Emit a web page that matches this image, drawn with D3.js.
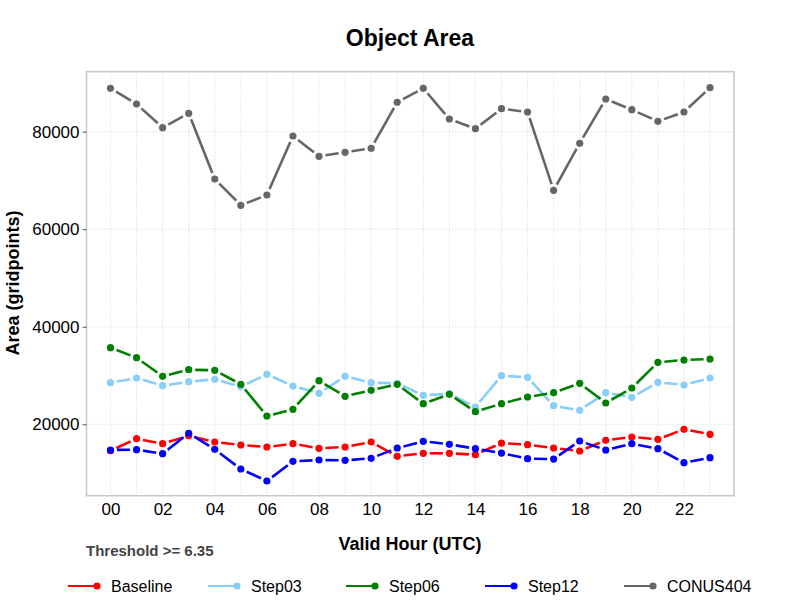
<!DOCTYPE html>
<html>
<head>
<meta charset="utf-8">
<script src="https://cdn.jsdelivr.net/npm/d3@7"></script>
<style>
  body { margin: 0; background: #fff; }
  svg { font-family: "Liberation Sans", Arial, sans-serif; }
</style>
</head>
<body>
<div id="chart"></div>
<script>
// chart data
const hours = [0, 1, 2, 3, 4, 5, 6, 7, 8, 9, 10, 11, 12, 13, 14, 15, 16, 17, 18, 19, 20, 21, 22, 23];
const xTickHours = [0, 2, 4, 6, 8, 10, 12, 14, 16, 18, 20, 22];
const yTicks = [20000, 40000, 60000, 80000];

const baseline = [14590, 17050, 16020, 17660, 16370, 15760, 15350, 16020, 15080, 15350, 16370, 13440,
                  14050, 14050, 13770, 16160, 15820, 15140, 14530, 16720, 17400, 16920, 18970, 17950];
const step03 = [28530, 29490, 27920, 28740, 29230, 27710, 30250, 27850, 26360, 29840, 28530, 28410,
                25950, 26270, 23550, 29970, 29640, 23810, 22870, 26480, 25540, 28610, 28060, 29490];
const step06 = [35710, 33660, 29840, 31200, 31070, 28200, 21700, 23080, 28940, 25740, 26970, 28200,
                24220, 26150, 22580, 24220, 25600, 26480, 28410, 24370, 27440, 32710, 33190, 33390];
const step12 = [14730, 14800, 13970, 18150, 14870, 10830, 8370, 12410, 12680, 12610, 13030, 15140,
                16510, 15900, 15000, 14110, 12950, 12880, 16580, 14730, 16020, 15000, 12130, 13150];
const conus404 = [88900, 85680, 80820, 83770, 70300, 64910, 67020, 79120, 74950, 75770, 76600, 86030,
                  88900, 82600, 80610, 84710, 84040, 67980, 77620, 86700, 84510, 82130, 84040, 89020];

const seriesNames = ["Baseline", "Step03", "Step06", "Step12", "CONUS404"];
const seriesColors = ["#ff0000", "#87cefa", "#008000", "#0000ff", "#666666"];
const seriesValues = [baseline, step03, step06, step12, conus404];

// size and plot box
const width = 792;
const height = 612;
const plot = {left: 86.5, right: 734, top: 71.7, bottom: 495.7};

const svg = d3.select("#chart")
  .append("svg")
  .attr("width", width)
  .attr("height", height)
  .attr("viewBox", [0, 0, width, height]);

const xScale = d3.scaleLinear()
  .domain([-0.92, 23.92])
  .range([plot.left, plot.right]);

const yScale = d3.scaleLinear()
  .domain([5360, 92300])
  .range([plot.bottom, plot.top]);

// dotted grid
svg.append("g")
  .selectAll("line")
  .data(hours)
  .join("line")
    .attr("x1", d => xScale(d)).attr("x2", d => xScale(d))
    .attr("y1", plot.top).attr("y2", plot.bottom)
    .attr("stroke", "#d4d4d4")
    .attr("stroke-dasharray", "1,2");

svg.append("g")
  .selectAll("line")
  .data(yTicks)
  .join("line")
    .attr("x1", plot.left).attr("x2", plot.right)
    .attr("y1", d => yScale(d)).attr("y2", d => yScale(d))
    .attr("stroke", "#d4d4d4")
    .attr("stroke-dasharray", "1,2");

// frame
svg.append("rect")
  .attr("x", plot.left).attr("y", plot.top)
  .attr("width", plot.right - plot.left)
  .attr("height", plot.bottom - plot.top)
  .attr("fill", "none")
  .attr("stroke", "#c8c8c8")
  .attr("stroke-width", 1.5);

// y axis
const yAxis = svg.append("g")
  .attr("transform", `translate(${plot.left},0)`)
  .call(d3.axisLeft(yScale).tickValues(yTicks).tickSize(4).tickPadding(3).tickFormat(d3.format("d")));
yAxis.select(".domain").remove();
yAxis.selectAll(".tick line").attr("stroke", "#555");
yAxis.selectAll("text").attr("font-size", "17px").attr("fill", "#000")
  .attr("font-family", "Liberation Sans, Arial, sans-serif");

// x axis
const xAxis = svg.append("g")
  .attr("transform", `translate(0,${plot.bottom})`)
  .call(d3.axisBottom(xScale).tickValues(xTickHours).tickSize(0).tickPadding(7)
    .tickFormat(d => d3.format("02d")(d)));
xAxis.select(".domain").remove();
xAxis.selectAll("text").attr("font-size", "17px").attr("fill", "#000")
  .attr("font-family", "Liberation Sans, Arial, sans-serif");

// lines with gaps around the points
const gap = 6.5;
seriesValues.forEach((vals, s) => {
  const pts = vals.map((v, i) => [xScale(hours[i]), yScale(v)]);
  const segs = d3.pairs(pts).map(([a, b]) => {
    const dx = b[0] - a[0], dy = b[1] - a[1];
    const len = Math.hypot(dx, dy);
    const ux = dx / len, uy = dy / len;
    return [a[0] + ux * gap, a[1] + uy * gap, b[0] - ux * gap, b[1] - uy * gap, len];
  }).filter(d => d[4] > 2 * gap);

  const g = svg.append("g");
  g.selectAll("line")
    .data(segs)
    .join("line")
      .attr("x1", d => d[0]).attr("y1", d => d[1])
      .attr("x2", d => d[2]).attr("y2", d => d[3])
      .attr("stroke", seriesColors[s])
      .attr("stroke-width", 2.6);

  g.selectAll("circle")
    .data(pts)
    .join("circle")
      .attr("cx", d => d[0]).attr("cy", d => d[1])
      .attr("r", 3.6)
      .attr("fill", seriesColors[s]);
});

// titles
svg.append("text")
  .attr("x", 410).attr("y", 46)
  .attr("text-anchor", "middle")
  .attr("font-size", "23px").attr("font-weight", "bold")
  .text("Object Area");

svg.append("text")
  .attr("x", 410).attr("y", 550)
  .attr("text-anchor", "middle")
  .attr("font-size", "18px").attr("font-weight", "bold")
  .text("Valid Hour (UTC)");

svg.append("text")
  .attr("transform", "translate(19,283) rotate(-90)")
  .attr("text-anchor", "middle")
  .attr("font-size", "18px").attr("font-weight", "bold")
  .text("Area (gridpoints)");

svg.append("text")
  .attr("x", 86).attr("y", 556)
  .attr("font-size", "15px").attr("font-weight", "bold")
  .attr("fill", "#444")
  .text("Threshold >= 6.35");

// legend
const legendX = [68, 208, 346, 485, 624];
const legend = svg.append("g")
  .selectAll("g")
  .data(seriesNames)
  .join("g")
    .attr("transform", (d, i) => `translate(${legendX[i]},586)`);

legend.append("line")
  .attr("x1", 0).attr("x2", 29)
  .attr("stroke", (d, i) => seriesColors[i])
  .attr("stroke-width", 2);
legend.append("circle")
  .attr("cx", 29).attr("r", 3.6)
  .attr("fill", (d, i) => seriesColors[i]);
legend.append("text")
  .attr("x", 43).attr("y", 6)
  .attr("font-size", "16px")
  .text(d => d);
</script>
</body>
</html>
